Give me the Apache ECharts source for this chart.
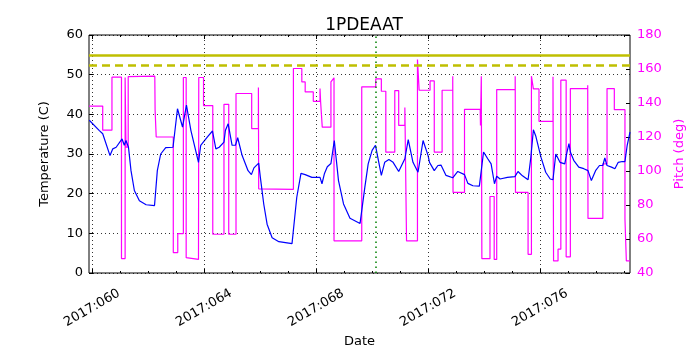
<!DOCTYPE html>
<html>
<head>
<meta charset="utf-8">
<script src="https://cdn.jsdelivr.net/npm/echarts@6/dist/echarts.min.js"></script>
<style>
  html, body { margin: 0; padding: 0; background: #fff; }
  #chart { width: 700px; height: 350px; }
</style>
</head>
<body>
<div id="chart"></div>
<script>
// x axis: day of year 2017
const xMin = 59.89
const xMax = 79.21
const majorDays = [60, 64, 68, 72, 76]
const majorLabels = ['2017:060', '2017:064', '2017:068', '2017:072', '2017:076']
const minorDays = [60, 61, 62, 63, 64, 65, 66, 67, 68, 69, 70, 71, 72, 73, 74, 75, 76, 77, 78, 79]

// limit lines
const limitHigh = 55
const limitPlan = 52.5
const markDay = 70.14

// temperature (C), left axis
const tempDays = [59.90, 60.26, 60.38, 60.64, 60.74, 60.86, 61.07, 61.15, 61.21, 61.30, 61.39, 61.51, 61.69, 61.93, 62.23,
  62.33, 62.45, 62.63, 62.89, 63.05, 63.23, 63.37, 63.53, 63.80, 63.88, 64.12, 64.30, 64.42, 64.54, 64.71, 64.76, 64.86,
  65.00, 65.12, 65.20, 65.36, 65.57, 65.69, 65.78, 65.95, 66.01, 66.13, 66.25, 66.43, 66.67, 67.14, 67.19, 67.31, 67.46,
  67.61, 67.85, 68.14, 68.21, 68.30, 68.40, 68.53, 68.65, 68.80, 68.98, 69.21, 69.57, 69.62, 69.74, 69.86, 70.00, 70.12,
  70.33, 70.45, 70.60, 70.75, 70.95, 71.17, 71.29, 71.46, 71.64, 71.82, 72.00, 72.05, 72.22, 72.35, 72.46, 72.64, 72.88,
  73.06, 73.30, 73.42, 73.60, 73.83, 73.98, 74.13, 74.25, 74.37, 74.45, 74.57, 74.83, 75.10, 75.21, 75.37, 75.57, 75.67,
  75.76, 75.85, 76.03, 76.20, 76.36, 76.46, 76.56, 76.71, 76.88, 76.96, 77.03, 77.08, 77.20, 77.38, 77.56, 77.71, 77.83,
  77.98, 78.12, 78.24, 78.31, 78.39, 78.55, 78.67, 78.79, 78.93, 79.03, 79.11, 79.21]
const tempVals = [38.5, 35.9, 35.1, 29.6, 31.3, 31.7, 33.8, 32.2, 33.4, 31.7, 25.8, 20.8, 18.2, 17.2, 17.0,
  25.8, 30.0, 31.6, 31.7, 41.4, 36.8, 42.3, 35.9, 27.9, 32.2, 34.3, 35.8, 31.3, 31.7, 33.0, 35.9, 37.6,
  32.2, 32.2, 34.1, 29.6, 25.8, 24.8, 26.5, 27.7, 24.1, 17.4, 12.3, 8.9, 7.9, 7.4, 7.4, 19.1, 25.1,
  24.8, 24.1, 24.1, 22.5, 25.1, 26.8, 27.6, 33.4, 23.3, 17.4, 13.8, 12.5, 12.5, 21.6, 27.5, 30.9, 32.2,
  24.6, 27.9, 28.6, 27.9, 25.6, 28.8, 33.6, 27.9, 25.4, 33.4, 29.6, 27.9, 25.8, 27.1, 27.2, 24.6, 24.0,
  25.6, 24.8, 22.6, 22.0, 21.9, 30.5, 28.8, 27.5, 22.5, 24.4, 23.7, 24.1, 24.3, 25.6, 24.5, 23.5, 29.2,
  36.1, 34.4, 29.2, 25.4, 23.7, 23.5, 30.0, 27.9, 27.5, 30.5, 32.6, 30.5, 28.4, 26.7, 26.3, 25.8, 23.3,
  25.8, 27.1, 27.1, 29.0, 27.1, 26.7, 26.3, 27.9, 28.1, 28.1, 32.2, 35.5]

// pitch (deg), right axis
const pitchDays = [59.89, 60.38, 60.38, 60.71, 60.71, 61.05, 61.05, 61.18, 61.18, 61.21, 61.21, 61.29, 61.29, 62.24,
  62.25, 62.29, 62.29, 62.90, 62.90, 63.06, 63.06, 63.26, 63.26, 63.36, 63.36, 63.80, 63.81, 63.98, 63.98, 64.31, 64.31,
  64.71, 64.71, 64.88, 64.88, 65.14, 65.14, 65.70, 65.70, 65.94, 65.94, 65.95, 67.19, 67.19, 67.49, 67.49, 67.61, 67.61,
  67.90, 67.90, 68.14, 68.14, 68.16, 68.22, 68.22, 68.53, 68.53, 68.64, 68.64, 69.63, 69.63, 70.13, 70.13, 70.33, 70.33,
  70.49, 70.49, 70.81, 70.81, 70.95, 70.95, 71.17, 71.17, 71.23, 71.23, 71.62, 71.62, 71.68, 72.07, 72.07, 72.22, 72.22,
  72.50, 72.50, 72.88, 72.88, 72.89, 73.30, 73.30, 73.86, 73.87, 73.90, 73.92, 74.21, 74.21, 74.36, 74.36, 74.45, 74.45,
  75.11, 75.11, 75.12, 75.57, 75.57, 75.69, 75.69, 75.76, 75.96, 75.96, 76.46, 76.46, 76.48, 76.64, 76.64, 76.74, 76.74,
  76.93, 76.93, 77.08, 77.08, 77.70, 77.70, 77.71, 78.24, 78.24, 78.39, 78.39, 78.65, 78.65, 79.03, 79.03, 79.08, 79.08,
  79.21]
const pitchVals = [138.2, 138.2, 124.0, 124.0, 155.2, 155.2, 48.5, 48.5, 155.0, 155.0, 114.0, 114.0, 155.5, 155.8,
  136.0, 136.0, 120.0, 120.0, 52.0, 52.0, 63.2, 63.2, 155.0, 155.0, 49.0, 48.0, 155.0, 155.0, 138.5, 138.5, 62.8,
  62.8, 139.2, 139.2, 62.8, 62.8, 145.6, 145.6, 124.9, 124.9, 149.1, 89.5, 89.2, 160.3, 160.3, 152.4, 152.4, 146.5,
  146.5, 141.0, 141.0, 148.5, 141.0, 141.0, 125.8, 125.8, 152.4, 154.8, 58.9, 58.9, 149.5, 149.5, 154.2, 154.2, 146.9,
  146.9, 111.1, 111.1, 147.3, 147.3, 126.8, 126.8, 137.3, 137.3, 58.9, 58.9, 165.6, 147.5, 147.5, 153.0, 153.0, 111.1,
  111.1, 147.5, 147.5, 155.8, 87.4, 87.4, 136.3, 136.3, 126.7, 155.8, 48.4, 48.4, 85.0, 85.0, 48.0, 48.0, 147.9,
  147.9, 155.8, 87.4, 87.4, 51.0, 51.0, 155.8, 148.3, 148.3, 129.2, 129.2, 155.4, 47.1, 47.1, 54.0, 54.0, 153.4,
  153.4, 49.5, 49.5, 148.5, 148.5, 150.5, 72.1, 72.1, 104.2, 104.2, 148.5, 148.5, 136.1, 136.1, 71.7, 71.7, 47.1,
  47.1]

const font = 'DejaVu Sans'
const magenta = '#ff00ff'

const chart = echarts.init(document.getElementById('chart'), null, { renderer: 'canvas' })

// extra x axes only carry tick marks (minor bottom, major/minor top)
const tickAxis = (position, values, length) => ({
  type: 'value', min: xMin, max: xMax, position,
  axisLine: { show: false },
  axisLabel: { show: false },
  splitLine: { show: false },
  axisTick: { show: true, inside: true, length, customValues: values, lineStyle: { color: '#000' } },
})

const gridLine = { type: [1, 3], color: '#000', width: 0.8 }

chart.setOption({
  animation: false,
  backgroundColor: '#fff',
  textStyle: { fontFamily: font },
  title: {
    text: '1PDEAAT',
    left: 359,
    top: 12,
    textAlign: 'center',
    textStyle: { fontFamily: font, fontSize: 17, fontWeight: 'normal', color: '#000' },
  },
  grid: {
    left: 89, right: 70, top: 35, bottom: 77,
    outerBoundsMode: 'none',
    containLabel: false,
    show: true, borderColor: '#000', borderWidth: 1, backgroundColor: 'transparent',
  },
  xAxis: [
    {
      type: 'value', min: xMin, max: xMax, position: 'bottom',
      name: 'Date', nameLocation: 'middle', nameGap: 54,
      nameTextStyle: { fontFamily: font, fontSize: 13, color: '#000' },
      axisLine: { show: false },
      axisTick: { show: true, inside: true, length: 4, customValues: majorDays, lineStyle: { color: '#000' } },
      axisLabel: {
        customValues: majorDays,
        formatter: v => majorLabels[majorDays.indexOf(Math.round(v))],
        rotate: 30, align: 'center', verticalAlign: 'middle', margin: 35,
        fontFamily: font, fontSize: 13, color: '#000',
      },
      splitLine: { show: false },
    },
    tickAxis('bottom', minorDays, 2),
    tickAxis('top', majorDays, 4),
    tickAxis('top', minorDays, 2),
  ],
  yAxis: [
    {
      type: 'value', min: 0, max: 60, interval: 10, position: 'left',
      name: 'Temperature (C)', nameLocation: 'middle', nameGap: 38,
      nameTextStyle: { fontFamily: font, fontSize: 13, color: '#000' },
      axisLine: { show: false },
      axisTick: { show: true, inside: true, length: 4, lineStyle: { color: '#000' } },
      axisLabel: { margin: 6, fontFamily: font, fontSize: 13, color: '#000' },
      splitLine: { show: true, lineStyle: gridLine },
    },
    {
      type: 'value', min: 40, max: 180, interval: 20, position: 'right',
      name: 'Pitch (deg)', nameLocation: 'middle', nameGap: 40,
      nameTextStyle: { fontFamily: font, fontSize: 13, color: magenta },
      axisLine: { show: false },
      axisTick: { show: true, inside: true, length: 4, lineStyle: { color: '#000' } },
      axisLabel: { margin: 7, fontFamily: font, fontSize: 13, color: magenta },
      splitLine: { show: false },
    },
  ],
  series: [
    {
      name: 'Temperature',
      type: 'line',
      xAxisIndex: 0,
      yAxisIndex: 0,
      showSymbol: false,
      smooth: false,
      data: tempDays.map((d, i) => [d, tempVals[i]]),
      lineStyle: { color: '#0000ff', width: 1.2 },
      z: 3,
      markLine: {
        silent: true,
        symbol: 'none',
        label: { show: false },
        data: [
          ...majorDays.map(d => ({ xAxis: d, lineStyle: gridLine })),
          { xAxis: markDay, lineStyle: { type: [1.5, 3.5], color: '#008000', width: 1.5 } },
          { yAxis: limitHigh, lineStyle: { type: 'solid', color: '#bfbf00', width: 2.5 } },
          { yAxis: limitPlan, lineStyle: { type: [8, 5], color: '#bfbf00', width: 2.5 } },
        ],
      },
    },
    {
      name: 'Pitch',
      type: 'line',
      xAxisIndex: 0,
      yAxisIndex: 1,
      showSymbol: false,
      data: pitchDays.map((d, i) => [d, pitchVals[i]]),
      lineStyle: { color: magenta, width: 1.2 },
      z: 2,
    },
  ],
})
</script>
</body>
</html>
